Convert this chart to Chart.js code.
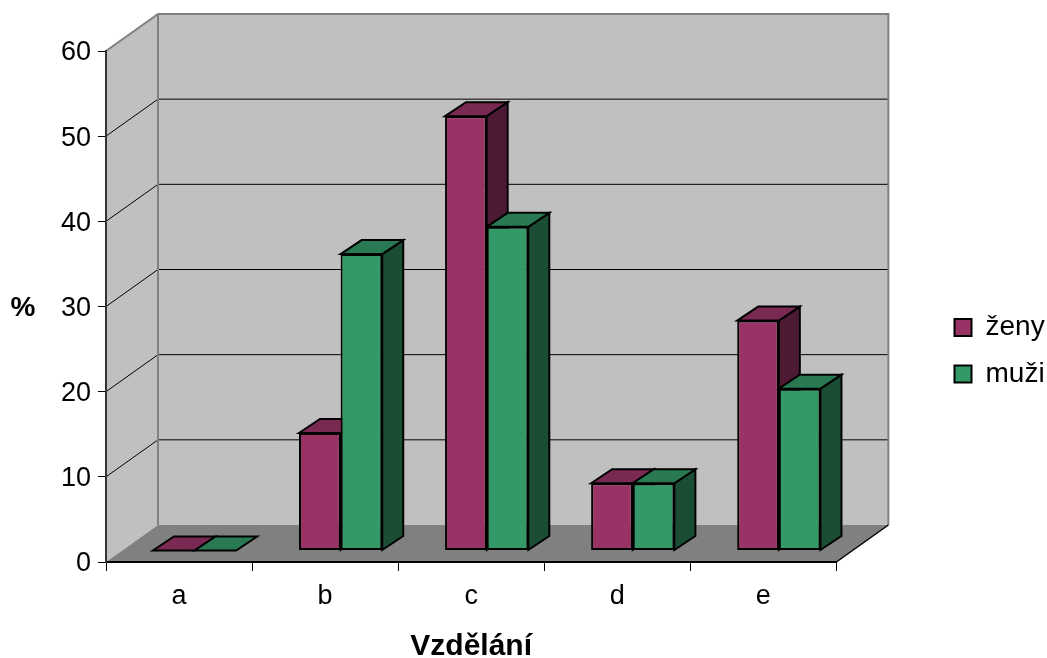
<!DOCTYPE html>
<html>
<head>
<meta charset="utf-8">
<script src="https://cdn.jsdelivr.net/npm/chart.js@4"></script>
<style>
body { margin: 0; background: #fff; }
</style>
</head>
<body>
<canvas id="vzdelaniChart" width="1047" height="658"></canvas>
<script>
const categories = ['a', 'b', 'c', 'd', 'e'];
const zeny = [0, 13.8, 51, 7.9, 27];
const muzi = [0, 34.8, 38, 7.9, 19];
const yTicks = [0, 10, 20, 30, 40, 50, 60];

const FONT = '"Liberation Sans", Arial, sans-serif';
// depth of the walls and of the bars, in pixels
const wallDepth = { x: 52, y: -37 };
const barDepth = { x: 21, y: -14 };
const barShift = { x: 15.5, y: -11.5 };

const shades = {
    zeny: { front: '#993366', top: '#7a2952', side: '#4d1a33' },
    muzi: { front: '#339966', top: '#297a52', side: '#1a4d33' }
};

function poly(ctx, pts, fill, stroke, width) {
    ctx.beginPath();
    pts.forEach((p, i) => i ? ctx.lineTo(p[0], p[1]) : ctx.moveTo(p[0], p[1]));
    ctx.closePath();
    if (fill) {
        ctx.fillStyle = fill;
        ctx.fill();
    }
    if (stroke) {
        ctx.strokeStyle = stroke;
        ctx.lineWidth = width;
        ctx.lineJoin = 'miter';
        ctx.stroke();
    }
}

const walls3d = {
    id: 'walls3d',
    afterLayout(chart) {
        // the legend sits well away from the plot, as in the original
        const l = chart.legend;
        l.left = 936;
        l.right = l.left + l.width;
        l.top = 295;
        l.bottom = l.top + l.height;
    },
    beforeDraw(chart) {
        const ctx = chart.ctx;
        const a = chart.chartArea;
        const dx = wallDepth.x, dy = wallDepth.y;
        ctx.save();
        // back wall, side wall, floor
        poly(ctx, [[a.left + dx, a.top + dy], [a.right + dx, a.top + dy], [a.right + dx, a.bottom + dy], [a.left + dx, a.bottom + dy]], '#c0c0c0');
        poly(ctx, [[a.left, a.top], [a.left + dx, a.top + dy], [a.left + dx, a.bottom + dy], [a.left, a.bottom]], '#c0c0c0');
        poly(ctx, [[a.left, a.bottom], [a.left + dx, a.bottom + dy], [a.right + dx, a.bottom + dy], [a.right, a.bottom]], '#808080');
        // gridlines follow the y scale round both walls
        const y = chart.scales.y;
        ctx.strokeStyle = '#000';
        ctx.lineWidth = 1;
        yTicks.slice(1, -1).forEach(v => {
            const py = y.getPixelForValue(v);
            ctx.beginPath();
            ctx.moveTo(a.left, py);
            ctx.lineTo(a.left + dx, py + dy);
            ctx.lineTo(a.right + dx, py + dy);
            ctx.stroke();
        });
        // wall outline
        ctx.strokeStyle = '#808080';
        ctx.lineWidth = 2;
        ctx.beginPath();
        ctx.moveTo(a.left, a.top);
        ctx.lineTo(a.left + dx, a.top + dy);
        ctx.lineTo(a.right + dx, a.top + dy);
        ctx.lineTo(a.right + dx, a.bottom + dy);
        ctx.moveTo(a.left + dx, a.top + dy);
        ctx.lineTo(a.left + dx, a.bottom + dy);
        ctx.stroke();
        ctx.strokeStyle = '#000';
        ctx.lineWidth = 1.5;
        ctx.beginPath();
        ctx.moveTo(a.right, a.bottom);
        ctx.lineTo(a.right + dx, a.bottom + dy);
        ctx.stroke();
        ctx.restore();
    },
    beforeDatasetsDraw(chart) {
        // sides and tops first, ženy before muži; the fronts go over them
        const ctx = chart.ctx;
        const dx = barDepth.x, dy = barDepth.y;
        ctx.save();
        ctx.translate(barShift.x, barShift.y);
        chart.data.datasets.forEach((ds, i) => {
            chart.getDatasetMeta(i).data.forEach(bar => {
                const p = bar.getProps(['x', 'y', 'base', 'width'], true);
                const l = p.x - p.width / 2, r = p.x + p.width / 2;
                if (p.base > p.y) {
                    poly(ctx, [[r, p.y], [r + dx, p.y + dy], [r + dx, p.base + dy], [r, p.base]], ds.shades.side, '#000', 2);
                }
                poly(ctx, [[l, p.y], [l + dx, p.y + dy], [r + dx, p.y + dy], [r, p.y]], ds.shades.top, '#000', 2);
            });
        });
        ctx.restore();
    },
    beforeDatasetDraw(chart) {
        chart.ctx.save();
        chart.ctx.translate(barShift.x, barShift.y);
    },
    afterDatasetDraw(chart) {
        chart.ctx.restore();
    },
    afterDraw(chart) {
        const ctx = chart.ctx;
        ctx.save();
        ctx.font = 'bold 28px ' + FONT;
        ctx.fillStyle = '#000';
        ctx.textAlign = 'center';
        ctx.textBaseline = 'middle';
        ctx.fillText('%', 23, 308);
        ctx.restore();
    }
};

new Chart(document.getElementById('vzdelaniChart'), {
    type: 'bar',
    data: {
        labels: categories,
        datasets: [
            { label: 'ženy', data: zeny, backgroundColor: shades.zeny.front, borderColor: '#000', borderWidth: 2, borderSkipped: false, shades: shades.zeny, clip: false },
            { label: 'muži', data: muzi, backgroundColor: shades.muzi.front, borderColor: '#000', borderWidth: 2, borderSkipped: false, shades: shades.muzi, clip: false }
        ]
    },
    plugins: [walls3d],
    options: {
        responsive: false,
        animation: false,
        devicePixelRatio: 1,
        categoryPercentage: 0.57,
        barPercentage: 1,
        layout: { padding: { top: 51, left: 0, right: 92, bottom: 0 } },
        scales: {
            x: {
                grid: { drawOnChartArea: false, tickLength: 9, color: '#000' },
                border: { color: '#000', width: 2 },
                ticks: { color: '#000', font: { family: FONT, size: 27 }, padding: 9, maxRotation: 0 },
                title: { display: true, text: 'Vzdělání', color: '#000', font: { family: FONT, size: 30, weight: 'bold' }, padding: { top: 0, bottom: -7 } },
                afterFit(scale) { scale.height = 96; }
            },
            y: {
                min: 0,
                max: 60,
                grid: { drawOnChartArea: false, tickLength: 8, color: '#000' },
                border: { color: '#333', width: 2 },
                ticks: { stepSize: 10, color: '#000', font: { family: FONT, size: 27 }, padding: 7, labelOffset: 2 },
                afterFit(scale) { scale.width = 106; }
            }
        },
        plugins: {
            legend: {
                position: 'right',
                align: 'start',
                labels: { boxWidth: 17, boxHeight: 17, padding: 18.5, color: '#000', font: { family: FONT, size: 28 } }
            },
            tooltip: { enabled: false }
        }
    }
});
</script>
</body>
</html>
